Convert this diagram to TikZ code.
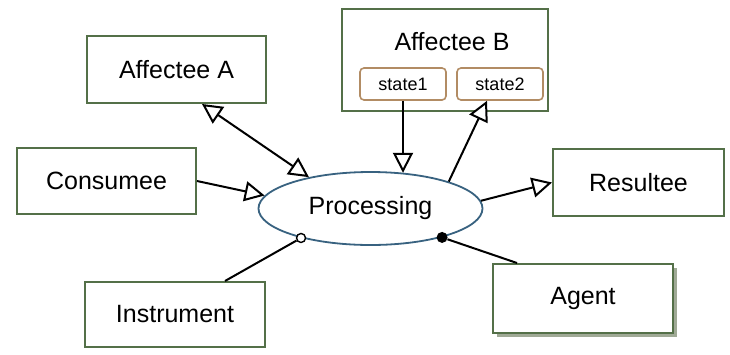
\documentclass[tikz,border=0pt]{standalone}
\usepackage{fontspec}
\setmainfont{Liberation Sans}
\usetikzlibrary{arrows.meta,calc,shapes.geometric,shadows}

\definecolor{boxgreen}{RGB}{84,112,72}
\definecolor{shadegreen}{RGB}{160,170,150}
\definecolor{statetan}{RGB}{178,140,100}
\definecolor{ovalblue}{RGB}{56,98,128}

\begin{document}
\begin{tikzpicture}[x=1pt,y=-1pt,
  rolebox/.style={draw=boxgreen, line width=2pt, fill=white, inner sep=0pt,
    font=\fontsize{25}{29}\selectfont},
  statebox/.style={draw=statetan, line width=1.6pt, rounded corners=4pt, fill=white,
    minimum width=86pt, minimum height=32pt, inner sep=0pt,
    font=\fontsize{18}{21}\selectfont},
  proc/.style={ellipse, draw=ovalblue, line width=1.8pt, fill=white,
    minimum width=224pt, minimum height=73pt, inner sep=0pt,
    font=\fontsize{25}{29}\selectfont},
  link/.style={line width=2pt, black},
  opentip/.style={-{Triangle[open, fill=white, length=20pt, width=20pt]}},
  bothtips/.style={{Triangle[open, fill=white, length=20pt, width=20pt]}-{Triangle[open, fill=white, length=20pt, width=20pt]}},
  hollowdot/.style={circle, draw=black, fill=white, line width=1.4pt, minimum size=9pt, inner sep=0pt},
  soliddot/.style={circle, fill=black, minimum size=11pt, inner sep=0pt}
]
\useasboundingbox[fill=white] (0,0) rectangle (730,354);

% participant boxes
\node[rolebox, minimum width=179pt, minimum height=67pt] (affA) at (176.5,69.5) {Affectee A};
\node[rolebox, minimum width=206pt, minimum height=102pt] (affB) at (445,60) {};
\node[font=\fontsize{25}{29}\selectfont, inner sep=0pt] (affBlabel) at (452,42) {Affectee B};
\node[statebox] (st1) at (403,84) {state1};
\node[statebox] (st2) at (500,84) {state2};
\node[rolebox, minimum width=179pt, minimum height=66pt] (cons) at (106.5,181) {Consumee};
\node[rolebox, minimum width=171pt, minimum height=67pt] (res) at (638.5,182.5) {Resultee};
\node[rolebox, minimum width=180pt, minimum height=65pt] (instr) at (175,314.5) {Instrument};
\node[rolebox, minimum width=180pt, minimum height=69pt,
  drop shadow={shadow xshift=4pt, shadow yshift=-4pt, fill=shadegreen, opacity=1}] (agent) at (583,298.5) {Agent};

% the process
\node[proc] (proc) at (370.5,208.5) {Processing};

% links
\draw[link, bothtips] ([xshift=25.5pt]affA.south) -- (proc.153);
\draw[link, opentip] (cons.east) -- (proc.173);
\draw[link, opentip] (st1.south) -- (st1.south |- proc.47);
\draw[link, opentip] (proc.19) -- ([xshift=-13pt]st2.south);
\draw[link, opentip] (proc.4) -- (res.west);

\node[hollowdot] (instrdot) at (proc.203) {};
\draw[link] ([xshift=50pt]instr.north) -- (instrdot);
\node[soliddot] (agentdot) at (proc.338) {};
\draw[link] ([xshift=-66pt]agent.north) -- (agentdot);
\end{tikzpicture}
\end{document}
